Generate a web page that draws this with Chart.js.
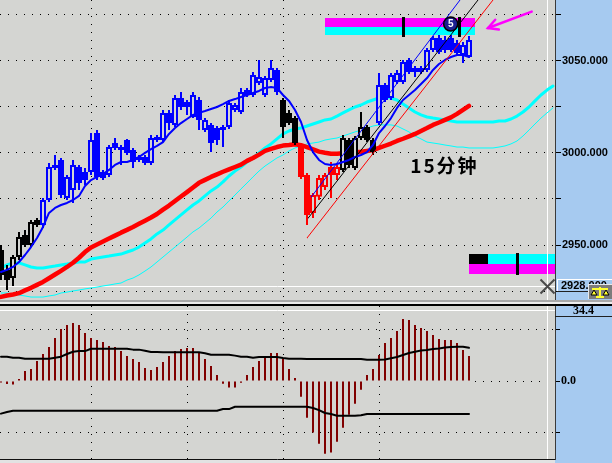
<!DOCTYPE html>
<html><head><meta charset="utf-8">
<script src="https://cdn.jsdelivr.net/npm/chart.js@4.4.1/dist/chart.umd.min.js"></script>
<style>
html,body{margin:0;padding:0;background:#d4d5d2;width:612px;height:463px;overflow:hidden}
#top{position:absolute;left:0;top:0}
#bot{position:absolute;left:0;top:300px}
</style></head><body>
<canvas id="top" width="612" height="300"></canvas>
<canvas id="bot" width="612" height="163"></canvas>
<script>
// ---------- price panel data (15-minute bars) ----------
const candleOpen = [2947.3,2936.5,2932.1,2943.5,2955.4,2950.0,2963.6,2960.9,2974.4,2993.4,
2996.1,2975.5,2979.8,2992.3,2989.6,2989.6,3010.7,2989.6,2987.9,3005.3,
3003.1,3006.9,3001.5,2996.1,2997.7,2994.5,3006.9,3006.9,3021.6,3015.1,
3029.7,3027.5,3019.4,3028.6,3012.3,3015.1,3013.4,3012.3,3014.0,3023.2,
3022.1,3034.0,3031.3,3037.8,3031.3,3039.4,3044.9,3028.6,3021.6,3018.8,
3004.2,2987.9,2967.4,2976.1,2981.4,2992.3,2987.9,2990.7,3006.9,2991.7,
3008.0,3014.0,3006.9,3016.1,3036.7,3029.7,3038.4,3038.4,3050.3,3045.9,
3043.8,3044.9,3055.7,3062.2,3061.1,3062.2,3059.5,3053.0,3051.9];
const candleHigh = [2950.0,2939.2,2944.6,2957.1,2958.1,2963.6,2964.6,2975.5,2994.5,2998.8,
2997.2,2987.9,2996.1,2993.4,2991.7,3010.7,3012.3,2990.7,3004.2,3008.0,
3004.2,3007.5,3002.6,2998.8,2998.8,3009.6,3009.6,3023.2,3023.2,3031.3,
3032.9,3028.6,3032.9,3030.2,3018.8,3016.1,3014.5,3015.1,3028.6,3027.0,
3035.1,3035.1,3043.8,3050.3,3041.6,3050.3,3045.9,3029.7,3023.2,3019.9,
3005.3,2989.0,2978.2,2987.9,2989.0,2995.0,2993.4,3009.6,3008.0,3009.1,
3022.1,3015.1,3008.0,3043.2,3037.8,3043.2,3044.9,3050.3,3051.4,3047.0,
3047.0,3056.8,3063.3,3063.8,3063.3,3063.8,3061.1,3060.0,3063.3];
const candleLow = [2931.0,2925.6,2927.8,2941.9,2948.9,2948.9,2959.8,2959.2,2973.3,2990.7,
2975.5,2974.4,2972.8,2979.8,2982.5,2987.9,2985.2,2985.2,2986.9,3001.5,
2993.4,2998.8,2991.7,2995.0,2993.4,2993.4,3005.8,3005.8,3012.3,3014.0,
3023.2,3020.5,3018.8,3012.3,3011.3,3000.4,3004.2,3003.1,3012.9,3022.1,
3021.0,3030.2,3030.2,3036.7,3030.2,3038.4,3031.3,3008.0,3015.1,3004.2,
2985.8,2960.9,2964.6,2974.4,2979.8,2975.5,2985.2,2989.6,2991.7,2990.7,
3006.9,3005.8,2998.8,3015.1,3027.5,3028.6,3037.3,3037.3,3042.7,3041.1,
3042.7,3043.8,3054.6,3053.5,3054.1,3054.6,3053.0,3048.7,3051.4];
const candleClose = [2933.8,2931.0,2943.5,2954.3,2950.0,2962.5,2960.9,2974.4,2992.3,2991.7,
2977.1,2986.9,2993.4,2983.6,2985.2,3006.9,2986.9,2986.3,3003.1,3002.6,
3001.5,2999.9,2995.0,2997.7,2994.5,3008.0,3008.5,3021.6,3016.1,3029.7,
3024.8,3024.8,3031.3,3017.8,3017.8,3005.3,3006.9,3014.0,3027.0,3025.9,
3032.9,3031.3,3042.2,3041.1,3040.5,3045.9,3032.9,3014.0,3016.1,3005.3,
2986.9,2966.3,2977.1,2986.3,2987.9,2987.9,2992.3,3008.0,2993.4,3008.0,
3014.0,3006.9,3000.4,3036.7,3028.6,3042.2,3043.2,3049.2,3043.8,3043.8,
3045.9,3055.7,3062.2,3054.6,3055.7,3055.7,3054.1,3058.4,3061.1];
// trend state of each bar: n = neutral, b = bullish, r = bearish
const candleTrend = ['n','n','n','n','n','n','n',
'b','b','b','b','b','b','b','b','b','b','b','b','b','b','b','b','b','b','b','b',
'b','b','b','b','b','b','b','b','b','b','b','b','b','b','b','b','b','b','b','b',
'n','n','n',
'r','r','r','r','r','r','r',
'n','n','n','n','n','n',
'b','b','b','b','b','b','b','b','b','b','b','b','b','b','b','b'];
const maFast = [2935.4,2936.5,2938.1,2940.8,2944.6,2948.9,2953.8,2959.8,2967.4,2970.1,
2971.7,2972.8,2974.4,2976.6,2982.0,2985.2,2986.9,2988.5,2990.7,2993.4,
2995.0,2995.0,2996.1,2997.7,2999.9,3002.0,3003.7,3005.8,3010.2,3013.4,
3016.1,3018.3,3020.5,3021.6,3022.6,3023.7,3024.8,3026.4,3028.1,3029.1,
3030.2,3031.3,3032.4,3033.5,3035.1,3035.6,3035.1,3031.3,3028.1,3023.2,
3016.7,3006.9,3000.4,2996.1,2993.9,2993.4,2993.9,2995.0,2996.1,2997.7,
2998.8,3000.4,3004.2,3010.7,3014.5,3018.8,3024.3,3028.6,3031.3,3034.0,
3037.3,3040.5,3044.9,3048.1,3050.3,3051.9,3053.0,3053.0,3051.9];
const maSlow = [2921.9,2922.6,2923.2,2923.9,2925.4,2926.8,2928.4,2930.0,2932.0,2934.0,
2936.0,2938.1,2940.4,2943.1,2946.2,2948.7,2950.3,2951.9,2953.5,2955.1,
2956.7,2958.2,2959.8,2961.5,2963.2,2964.9,2966.8,2969.2,2971.4,2973.9,
2976.3,2978.7,2981.2,2983.7,2985.3,2986.9,2988.3,2989.7,2991.0,2992.3,
2993.6,2995.6,2997.2,2999.0,3001.0,3002.1,3003.1,3003.9,3004.2,3004.6,
3004.1,3003.1,3001.9,3000.6,3000.0,2999.5,2999.5,2999.7,3000.0,3000.2,
3000.5,3001.0,3001.5,3002.6,3003.8,3005.0,3006.4,3007.6,3008.9,3010.2,
3011.8,3013.4,3015.1,3016.4,3017.8,3019.2,3021.1,3023.2,3025.4];
const bandUpper = [2937.5,2939.2,2940.3,2940.3,2939.2,2938.1,2937.5,2937.5,2938.1,2938.6,
2939.2,2939.7,2940.3,2940.8,2940.8,2942.4,2943.0,2943.5,2944.0,2944.6,
2945.1,2946.2,2947.3,2948.9,2951.1,2953.3,2956.0,2958.1,2960.9,2963.6,
2966.3,2969.0,2971.7,2973.9,2976.6,2979.3,2981.4,2984.2,2987.4,2990.1,
2992.3,2995.0,2997.2,2999.9,3002.6,3004.8,3007.5,3010.2,3011.8,3012.9,
3013.4,3014.5,3015.6,3016.7,3017.8,3018.3,3019.9,3021.6,3023.2,3024.8,
3025.9,3027.5,3028.6,3029.7,3030.2,3029.7,3028.6,3026.4,3024.3,3022.1,
3020.5,3019.4,3018.8,3018.3,3017.8,3017.2,3016.7,3016.7,3016.7,3016.7,
3016.7,3016.7,3016.7,3017.2,3017.2,3018.3,3019.9,3022.1,3024.8,3028.1,
3031.3,3034.0,3036.2];
const bandLower = [2924.0,2924.0,2923.5,2922.9,2922.4,2921.8,2921.8,2921.8,2922.4,2922.9,
2924.0,2924.5,2925.1,2925.6,2926.2,2926.7,2927.2,2927.8,2928.3,2928.9,
2929.4,2931.0,2932.1,2933.8,2935.9,2938.1,2940.8,2943.5,2946.2,2948.9,
2951.6,2954.3,2957.1,2959.2,2961.9,2964.6,2967.9,2970.6,2973.9,2977.1,
2980.4,2983.6,2986.9,2990.1,2992.8,2995.0,2997.2,2998.8,3001.0,3002.6,
3003.7,3004.8,3005.3,3005.8,3006.9,3007.5,3008.0,3009.1,3010.2,3011.3,
3012.3,3013.4,3014.5,3015.1,3015.1,3015.1,3014.5,3012.9,3011.3,3009.1,
3007.5,3005.8,3005.3,3004.8,3004.2,3003.7,3003.1,3003.1,3002.6,3002.6,
3002.6,3002.6,3002.6,3003.1,3003.7,3004.8,3006.4,3009.1,3012.3,3015.6,
3018.8,3021.6,3024.3];
// channel lines: [bar index, price] end points
const channelRed = [[51.0, 2953.8], [82.0, 3082.8]];
const channelBlack = [[51.2, 2964.6], [79.5, 3082.8]];
const channelBlue = [[51.7, 2976.0], [76.5, 3082.8]];
const priceTicks = [3075, 3050, 3025, 3000, 2975, 2950, 2925];
const priceRange = [2920.2, 3082.8];
const timeGridTop = [15, 47];
// annotations
const upperZoneIdx = [54, 79];
const upperZoneMagenta = [3073.0, 3068.2];
const upperZoneCyan = [3068.2, 3063.8];
const upperZoneMarks = [67, 76.25];
const upperZoneMarkSpan = [3073.6, 3062.7];
const lowerZoneIdx = [78, 92.4];
const lowerZoneCyan = [2945.1, 2939.7];
const lowerZoneMagenta = [2939.7, 2934.3];
const lowerZoneBlackIdx = [78, 81.2];
const lowerZoneMark = 86;
const lowerZoneMarkSpan = [2945.6, 2933.7];
const waveMark = [74.95, 3069.8];
const waveLabel = '5';
const arrowTail = [88.45, 3076.5];
const arrowHead = [81.17, 3067.6];
const periodLabel = '15分钟';
const periodLabelPos = [68.2, 2992.8];
const crossIndex = 91.08;
const crossPrice = 2928;

// ---------- oscillator panel data ----------
const oscHist = [-0.7,-1.5,-1.7,1.0,4.8,5.8,9.7,13.1,16.5,20.8,
25.2,27.1,28.1,27.1,23.3,20.8,19.9,18.9,17.0,16.5,
14.5,12.1,10.7,9.2,6.3,5.3,6.8,9.2,12.1,14.5,
15.5,16.0,16.0,13.6,10.7,7.3,2.9,-1.3,-3.2,-3.2,
-0.8,2.9,6.8,9.7,12.1,13.6,13.6,10.7,5.8,1.5,
-7.6,-17.8,-25.0,-30.4,-35.2,-34.7,-29.4,-22.6,-16.3,-11.0,
-4.2,2.9,5.8,12.6,18.4,20.8,24.2,30.0,29.6,27.1,
25.7,24.2,22.3,20.3,19.9,19.9,18.4,15.0,12.1];
const oscUpper = [11.8,11.8,11.3,11.3,10.8,10.8,10.8,10.8,10.8,11.3,
11.8,13.1,14.2,14.5,14.5,15.6,15.6,15.6,15.6,15.6,
15.6,15.6,15.2,15.2,14.7,14.1,14.1,13.9,13.9,13.9,
13.9,13.9,13.9,13.9,13.4,12.7,12.7,12.7,12.7,12.3,
11.8,11.8,11.3,11.6,11.6,11.6,11.6,11.1,10.8,10.8,
10.8,10.7,10.7,10.7,10.7,10.7,10.7,10.7,10.7,10.7,
10.7,10.3,10.3,10.3,10.4,11.0,11.6,12.6,13.6,14.2,
14.8,15.0,15.5,15.8,16.2,16.5,16.6,16.6,16.1];
const oscLower = [-15.8,-15.0,-14.4,-14.4,-14.4,-14.4,-14.4,-14.4,-14.4,-14.4,
-14.4,-14.4,-14.4,-14.4,-14.4,-14.4,-14.4,-14.4,-14.4,-14.4,
-14.4,-14.4,-14.4,-14.4,-14.4,-14.4,-14.4,-14.4,-14.4,-14.4,
-14.4,-14.4,-14.4,-14.4,-14.4,-14.4,-14.4,-13.6,-13.6,-12.5,
-12.5,-12.5,-12.5,-12.5,-12.5,-12.5,-12.5,-12.5,-12.5,-12.5,
-12.5,-12.5,-13.1,-14.1,-15.5,-16.0,-16.8,-16.8,-16.8,-16.8,
-16.6,-16.0,-16.0,-16.0,-16.0,-16.0,-16.0,-16.0,-16.0,-16.0,
-16.0,-16.0,-16.0,-16.0,-16.0,-16.0,-16.0,-16.0,-16.0];
const oscTicks = [25, 0, -25];
const oscRange = [-37.79, 36.34];
const timeGridBottom = [15, 31, 47, 63];
const oscCrossValue = 34.4;

// ---------- styling ----------
const PANEL_BG = '#d4d5d2';
const AXIS_BG = '#a6caf0';
const trendColor = {n: '#000000', b: '#0000ff', r: '#ff0000'};
const X_MIN = -1/6, X_MAX = 554/6;
Chart.defaults.font.family = '"Liberation Sans", Arial, sans-serif';

const pts = arr => arr.map((v, i) => ({x: i, y: v}));
const seg = arr => arr.map(p => ({x: p[0], y: p[1]}));
const zeroPad = s => { s.paddingTop = 0; s.paddingBottom = 0; s.paddingLeft = 0; s.paddingRight = 0; };

const wickData = candleOpen.map((_, i) => ({x: i, y: [candleLow[i], candleHigh[i]]}));
const bodyData = candleOpen.map((o, i) => ({x: i, y: [o, candleClose[i]]}));
const barColors = candleTrend.map(t => trendColor[t]);
const bodyFill = candleOpen.map((o, i) => candleClose[i] < o ? trendColor[candleTrend[i]] : PANEL_BG);

function hline(ctx, x0, x1, y) { ctx.beginPath(); ctx.moveTo(x0, y); ctx.lineTo(x1, y); ctx.stroke(); }
function vline(ctx, x, y0, y1) { ctx.beginPath(); ctx.moveTo(x, y0); ctx.lineTo(x, y1); ctx.stroke(); }

const topDecor = {
  id: 'topDecor',
  beforeDraw(chart) {
    const {ctx, chartArea: a, width, height} = chart;
    ctx.save();
    ctx.fillStyle = PANEL_BG; ctx.fillRect(0, 0, width, height);
    ctx.fillStyle = AXIS_BG; ctx.fillRect(a.right, 0, width - a.right, height);
    ctx.restore();
  },
  beforeDatasetsDraw(chart) {
    const {ctx, chartArea: a} = chart; const x = chart.scales.x, y = chart.scales.y;
    ctx.save();
    const rect = (i0, i1, p0, p1, c) => {
      const xa = Math.round(x.getPixelForValue(i0)), xb = Math.min(Math.round(x.getPixelForValue(i1)), a.right);
      const ya = Math.round(y.getPixelForValue(p0)), yb = Math.round(y.getPixelForValue(p1));
      ctx.fillStyle = c; ctx.fillRect(xa, ya, xb - xa, yb - ya);
    };
    rect(upperZoneIdx[0], upperZoneIdx[1], upperZoneMagenta[0], upperZoneMagenta[1], '#ff00ff');
    rect(upperZoneIdx[0], upperZoneIdx[1], upperZoneCyan[0], upperZoneCyan[1], '#00ffff');
    rect(lowerZoneIdx[0], lowerZoneIdx[1], lowerZoneCyan[0], lowerZoneCyan[1], '#00ffff');
    rect(lowerZoneIdx[0], lowerZoneIdx[1], lowerZoneMagenta[0], lowerZoneMagenta[1], '#ff00ff');
    rect(lowerZoneBlackIdx[0], lowerZoneBlackIdx[1], lowerZoneCyan[0], lowerZoneCyan[1], '#000000');
    // crosshair
    ctx.strokeStyle = '#ffffff'; ctx.lineWidth = 1;
    const cx = Math.round(x.getPixelForValue(crossIndex)) + 0.5;
    const cy = Math.round(y.getPixelForValue(crossPrice)) + 0.5;
    hline(ctx, a.left, a.right, cy);
    vline(ctx, cx, a.top, a.bottom);
    ctx.restore();
  },
  afterDatasetsDraw(chart) {
    const {ctx} = chart; const x = chart.scales.x, y = chart.scales.y;
    ctx.save();
    // zone markers
    ctx.fillStyle = '#000';
    const mark = (i, p0, p1) => {
      const px = Math.round(x.getPixelForValue(i));
      const y0 = Math.round(y.getPixelForValue(p0)), y1 = Math.round(y.getPixelForValue(p1));
      ctx.fillRect(px - 1, y0, 3, y1 - y0);
    };
    upperZoneMarks.forEach(i => mark(i, upperZoneMarkSpan[0], upperZoneMarkSpan[1]));
    mark(lowerZoneMark, lowerZoneMarkSpan[0], lowerZoneMarkSpan[1]);
    // wave count circle
    const wx = x.getPixelForValue(waveMark[0]), wy = y.getPixelForValue(waveMark[1]);
    ctx.beginPath(); ctx.arc(wx, wy, 7, 0, Math.PI * 2);
    ctx.fillStyle = '#1c2090'; ctx.fill();
    ctx.lineWidth = 1.5; ctx.strokeStyle = '#000'; ctx.stroke();
    ctx.fillStyle = '#fff'; ctx.font = 'bold 10px "Liberation Sans"';
    ctx.textAlign = 'center'; ctx.textBaseline = 'middle';
    ctx.fillText(waveLabel, wx, wy + 0.5);
    // arrow
    const ax0 = x.getPixelForValue(arrowTail[0]), ay0 = y.getPixelForValue(arrowTail[1]);
    const ax1 = x.getPixelForValue(arrowHead[0]), ay1 = y.getPixelForValue(arrowHead[1]);
    ctx.strokeStyle = '#ff00ff'; ctx.lineWidth = 2.5; ctx.lineCap = 'round';
    ctx.beginPath(); ctx.moveTo(ax0, ay0); ctx.lineTo(ax1, ay1); ctx.stroke();
    const ang = Math.atan2(ay1 - ay0, ax1 - ax0);
    ctx.beginPath();
    ctx.moveTo(ax1 - 11 * Math.cos(ang - 0.5), ay1 - 11 * Math.sin(ang - 0.5));
    ctx.lineTo(ax1, ay1);
    ctx.lineTo(ax1 - 11 * Math.cos(ang + 0.5), ay1 - 11 * Math.sin(ang + 0.5));
    ctx.stroke();
    // period label
    ctx.fillStyle = '#000'; ctx.textAlign = 'left'; ctx.textBaseline = 'middle';
    ctx.font = 'bold 19px "Noto Sans CJK SC"';
    try { ctx.letterSpacing = '2px'; } catch (e) {}
    ctx.fillText(periodLabel, x.getPixelForValue(periodLabelPos[0]), y.getPixelForValue(periodLabelPos[1]));
    ctx.restore();
  },
  afterDraw(chart) {
    const {ctx, chartArea: a, width} = chart; const x = chart.scales.x, y = chart.scales.y;
    ctx.save();
    const cx = Math.round(x.getPixelForValue(crossIndex)) + 0.5;
    const cy = Math.round(y.getPixelForValue(crossPrice)) + 0.5;
    // price label box
    const bx = a.right + 2, by = Math.round(cy) - 8;
    ctx.fillStyle = AXIS_BG; ctx.fillRect(bx, by, width - bx, 13);
    ctx.lineWidth = 1; ctx.strokeStyle = '#ffffff';
    hline(ctx, bx, width, by + 0.5); vline(ctx, bx + 0.5, by, by + 13);
    ctx.strokeStyle = '#202020'; hline(ctx, bx, width, by + 12.5);
    ctx.fillStyle = '#000'; ctx.font = 'bold 11px "Liberation Sans"';
    ctx.textAlign = 'left'; ctx.textBaseline = 'middle';
    ctx.fillText(crossPrice.toFixed(3), bx + 4, by + 7);
    // small tool icon
    const ix = a.right + 33, iy = by + 5;
    ctx.fillStyle = '#7c7c7c'; ctx.fillRect(ix, iy, width - ix, 15);
    ctx.strokeStyle = '#e8e8e8'; hline(ctx, ix, width, iy + 0.5); vline(ctx, ix + 0.5, iy, iy + 15);
    ctx.strokeStyle = '#000'; ctx.lineWidth = 1;
    ctx.fillStyle = '#ffff30';
    ctx.fillRect(ix + 11, iy + 3, 2, 10);
    ctx.fillRect(ix + 4, iy + 4, 16, 2);
    ctx.beginPath(); ctx.moveTo(ix + 3, iy + 11); ctx.lineTo(ix + 6, iy + 6); ctx.lineTo(ix + 9, iy + 11); ctx.closePath(); ctx.fill(); ctx.stroke();
    ctx.beginPath(); ctx.moveTo(ix + 15, iy + 11); ctx.lineTo(ix + 18, iy + 6); ctx.lineTo(ix + 21, iy + 11); ctx.closePath(); ctx.fill(); ctx.stroke();
    ctx.fillRect(ix + 8, iy + 12, 8, 2);
    // cursor cross
    ctx.strokeStyle = '#4a4a4a'; ctx.lineWidth = 2; ctx.lineCap = 'butt';
    ctx.beginPath(); ctx.moveTo(cx - 7, cy - 7); ctx.lineTo(cx + 7, cy + 7);
    ctx.moveTo(cx + 7, cy - 7); ctx.lineTo(cx - 7, cy + 7); ctx.stroke();
    ctx.restore();
  }
};

const lineDs = (data, color, w, order) => ({type: 'line', data, borderColor: color, borderWidth: w,
  pointRadius: 0, tension: 0, fill: false, order, borderJoinStyle: 'round', borderCapStyle: 'round'});

new Chart(document.getElementById('top'), {
  type: 'line',
  data: {datasets: [
    lineDs(pts(bandLower), '#00ffff', 1, 9),
    lineDs(pts(bandUpper), '#00ffff', 3, 8),
    lineDs(pts(maSlow), '#ff0000', 4.5, 7),
    {type: 'bar', data: wickData, backgroundColor: barColors, borderWidth: 0, barThickness: 2,
     grouped: false, inflateAmount: 0, order: 6},
    {type: 'bar', data: bodyData, backgroundColor: bodyFill, borderColor: barColors, borderWidth: 2,
     borderSkipped: false, barThickness: 6, grouped: false, inflateAmount: 0, order: 5},
    lineDs(pts(maFast), '#0000ff', 2, 4),
    lineDs(seg(channelRed), '#ff0000', 1, 3),
    lineDs(seg(channelBlack), '#000000', 1, 2),
    lineDs(seg(channelBlue), '#0000ff', 1, 1)
  ]},
  options: {
    responsive: false, animation: false, events: [],
    layout: {padding: 0, autoPadding: false},
    plugins: {legend: {display: false}, tooltip: {enabled: false}},
    scales: {
      x: {type: 'linear', min: X_MIN, max: X_MAX, offset: false,
          afterBuildTicks: s => { s.ticks = timeGridTop.map(v => ({value: v})); },
          afterFit: s => { s.height = 0; zeroPad(s); },
          ticks: {display: false},
          grid: {color: '#000', drawTicks: false, offset: false, lineWidth: 1},
          border: {display: false, dash: [1, 7]}},
      y: {type: 'linear', position: 'right', min: priceRange[0], max: priceRange[1],
          afterBuildTicks: s => { s.ticks = priceTicks.map(v => ({value: v})); },
          afterFit: s => { s.width = 57; zeroPad(s); },
          ticks: {autoSkip: false, color: '#000', padding: 1, font: {size: 11, weight: 'bold'},
                  callback: v => (v % 50 === 0 ? v.toFixed(3) : '')},
          grid: {color: '#000', tickColor: '#000', tickLength: 6, lineWidth: 1},
          border: {display: true, color: '#3a3a3a', width: 1, dash: [1, 7]}}
    }
  },
  plugins: [topDecor]
});

const botDecor = {
  id: 'botDecor',
  beforeDraw(chart) {
    const {ctx, chartArea: a, width, height} = chart;
    ctx.save();
    ctx.fillStyle = PANEL_BG; ctx.fillRect(0, 0, width, height);
    ctx.fillStyle = AXIS_BG; ctx.fillRect(a.right, a.top, width - a.right, height - a.top);
    // panel separator
    ctx.fillStyle = '#a8a8a8'; ctx.fillRect(0, 0, width, 2);
    ctx.fillStyle = '#ececec'; ctx.fillRect(0, 2, width, 2);
    ctx.fillStyle = '#000000'; ctx.fillRect(0, 4, width, 2);
    ctx.restore();
  },
  beforeDatasetsDraw(chart) {
    const {ctx, chartArea: a} = chart; const x = chart.scales.x, y = chart.scales.y;
    ctx.save();
    ctx.strokeStyle = '#000'; ctx.lineWidth = 1; ctx.setLineDash([1, 7]);
    const zy = Math.round(y.getPixelForValue(0)) + 0.5;
    hline(ctx, x.getPixelForValue(oscHist.length), a.right, zy);
    ctx.setLineDash([]);
    ctx.strokeStyle = '#ffffff';
    const cx = Math.round(x.getPixelForValue(crossIndex)) + 0.5;
    const cy = Math.round(y.getPixelForValue(oscCrossValue)) + 0.5;
    hline(ctx, a.left, a.right, cy);
    vline(ctx, cx, a.top, a.bottom);
    ctx.restore();
  },
  afterDraw(chart) {
    const {ctx, chartArea: a, width, height} = chart; const y = chart.scales.y;
    ctx.save();
    const cy = Math.round(y.getPixelForValue(oscCrossValue));
    ctx.fillStyle = AXIS_BG; ctx.fillRect(a.right + 1, a.top, width - a.right - 1, cy + 6 - a.top);
    ctx.strokeStyle = '#202020'; ctx.lineWidth = 1;
    hline(ctx, a.right, width, cy + 6.5);
    ctx.fillStyle = '#000'; ctx.font = 'bold 12px "Liberation Serif"';
    ctx.textAlign = 'center'; ctx.textBaseline = 'middle';
    ctx.fillText(oscCrossValue.toFixed(1), (a.right + width) / 2, cy + 1);
    // bottom tab strip
    ctx.fillStyle = '#e2e2e2'; ctx.fillRect(0, a.bottom, a.right, height - a.bottom);
    ctx.strokeStyle = '#101010'; hline(ctx, 0, a.right, a.bottom + 0.5);
    ctx.restore();
  }
};

new Chart(document.getElementById('bot'), {
  type: 'line',
  data: {datasets: [
    {type: 'bar', data: pts(oscHist), backgroundColor: '#800000', borderWidth: 0, barThickness: 2,
     grouped: false, inflateAmount: 0, order: 3},
    lineDs(pts(oscUpper), '#000000', 2, 2),
    lineDs(pts(oscLower), '#000000', 2, 1)
  ]},
  options: {
    responsive: false, animation: false, events: [],
    layout: {padding: {top: 6, bottom: 4, left: 0, right: 0}, autoPadding: false},
    plugins: {legend: {display: false}, tooltip: {enabled: false}},
    scales: {
      x: {type: 'linear', min: X_MIN, max: X_MAX, offset: false,
          afterBuildTicks: s => { s.ticks = timeGridBottom.map(v => ({value: v})); },
          afterFit: s => { s.height = 0; zeroPad(s); },
          ticks: {display: false},
          grid: {color: '#000', drawTicks: false, offset: false, lineWidth: 1},
          border: {display: false, dash: [1, 7]}},
      y: {type: 'linear', position: 'right', min: oscRange[0], max: oscRange[1],
          afterBuildTicks: s => { s.ticks = oscTicks.map(v => ({value: v})); },
          afterFit: s => { s.width = 57; zeroPad(s); },
          ticks: {autoSkip: false, color: '#000', padding: 1,
                  font: {family: '"Liberation Serif", serif', size: 12, weight: 'bold'},
                  callback: v => (v === 0 ? '0.0' : '')},
          grid: {color: c => (c.tick && c.tick.value === 0 ? 'rgba(0,0,0,0)' : '#000'),
                 tickColor: '#000', tickLength: 5, lineWidth: 1},
          border: {display: true, color: '#3a3a3a', width: 1, dash: [1, 7]}}
    }
  },
  plugins: [botDecor]
});
</script>
</body></html>
